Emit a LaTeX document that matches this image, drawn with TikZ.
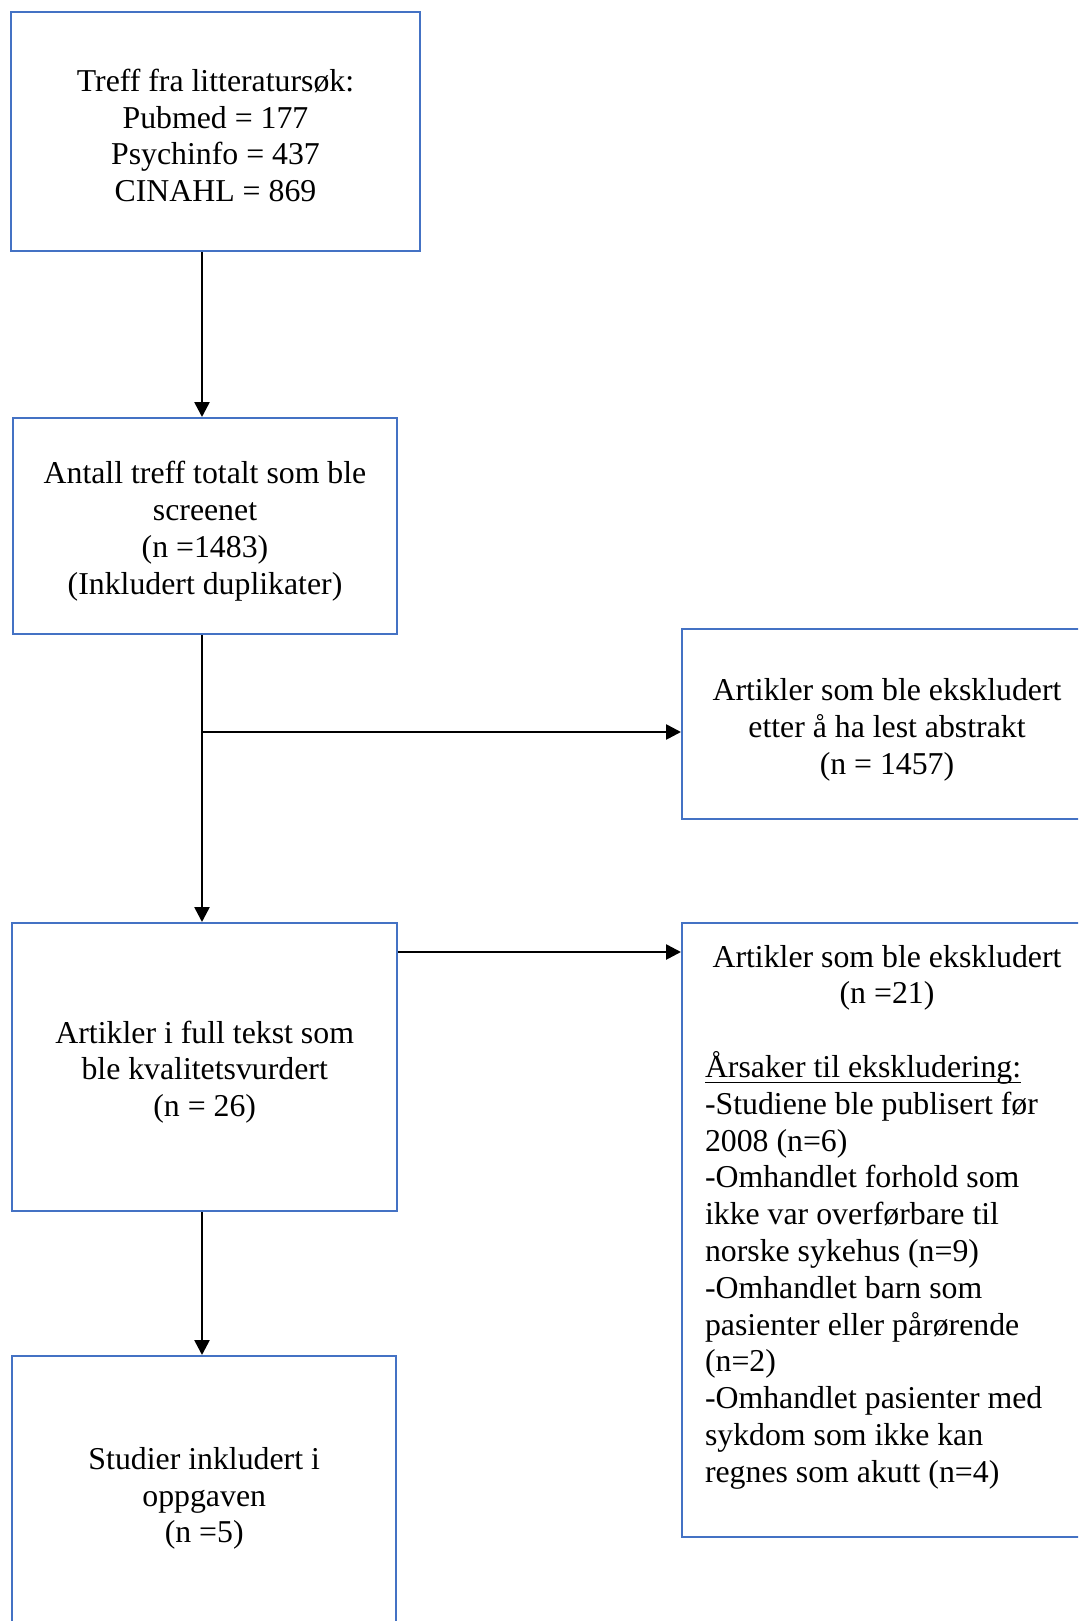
\documentclass[tikz,border=0pt]{standalone}
\usepackage{fontspec}
\setmainfont{Liberation Serif}
\usetikzlibrary{arrows.meta}
\definecolor{boxblue}{HTML}{4472C4}
\newcommand{\diagfont}{\fontsize{31.8pt}{36.8pt}\selectfont}
\newcommand{\myul}[1]{\setbox0\hbox{#1}\rlap{\rule[-6pt]{\wd0}{1.8pt}}\box0}
\begin{document}
\begin{tikzpicture}[x=1pt,y=-1pt,
  box/.style={draw=boxblue, line width=2pt, inner sep=0pt},
  txt/.style={inner sep=0pt, align=center, font=\diagfont},
  arr/.style={line width=2.6pt, -{Triangle[length=15pt,width=15pt]}}]
\useasboundingbox (0,0) rectangle (1078,1621);
\clip (0,0) rectangle (1078,1621);
\fill[white] (0,0) rectangle (1078,1621);
\node[box, minimum width=409pt, minimum height=239pt] (b1) at (215.5,131.5) {};
\node[txt] (t1) at ([yshift=-4pt]b1.center)
  {Treff fra litteratursøk:\\Pubmed = 177\\Psychinfo = 437\\CINAHL = 869};
\node[box, minimum width=384.6pt, minimum height=216pt] (b2) at (205,526) {};
\node[txt] (t2) at ([yshift=-5pt]b2.center)
  {Antall treff totalt som ble\\screenet\\(n =1483)\\(Inkludert duplikater)};
\node[box, minimum width=410pt, minimum height=190pt] (r1) at (887,724) {};
\node[txt] (t3) at ([yshift=-6pt]r1.center)
  {Artikler som ble ekskludert\\etter å ha lest abstrakt\\(n = 1457)};
\node[box, minimum width=384.6pt, minimum height=288pt] (b3) at (204.7,1067) {};
\node[txt] (t4) at ([yshift=-5pt]b3.center)
  {Artikler i full tekst som\\ble kvalitetsvurdert\\(n = 26)};
\node[box, minimum width=383.6pt, minimum height=277pt] (b4) at (204.2,1494.5) {};
\node[txt] (t5) at ([yshift=-4pt]b4.center)
  {Studier inkludert i\\oppgaven\\(n =5)};
\node[box, minimum width=410pt, minimum height=614pt, font=\diagfont] (r2) at (887,1230)
  {\parbox[c][614pt][t]{410pt}{\vspace*{22pt}%
   \makebox[410pt][c]{Artikler som ble ekskludert}\\
   \makebox[410pt][c]{(n =21)}\\
   \mbox{}\\
   \hspace*{23pt}\myul{Årsaker til ekskludering:}\\
   \hspace*{23pt}-Studiene ble publisert før\\
   \hspace*{23pt}2008 (n=6)\\
   \hspace*{23pt}-Omhandlet forhold som\\
   \hspace*{23pt}ikke var overførbare til\\
   \hspace*{23pt}norske sykehus (n=9)\\
   \hspace*{23pt}-Omhandlet barn som\\
   \hspace*{23pt}pasienter eller pårørende\\
   \hspace*{23pt}(n=2)\\
   \hspace*{23pt}-Omhandlet pasienter med\\
   \hspace*{23pt}sykdom som ikke kan\\
   \hspace*{23pt}regnes som akutt (n=4)}};
\coordinate (ax) at (202,0);
\coordinate (j1) at (202,732);
\coordinate (y2) at (0,952);
\draw[arr] (b1.south -| ax) -- (b2.north -| ax);
\draw[arr] (b2.south -| ax) -- (b3.north -| ax);
\draw[arr] (b3.south -| ax) -- (b4.north -| ax);
\draw[arr] (j1) -- (j1 -| r1.west);
\draw[arr] (b3.east |- y2) -- (r2.west |- y2);
\end{tikzpicture}
\end{document}
